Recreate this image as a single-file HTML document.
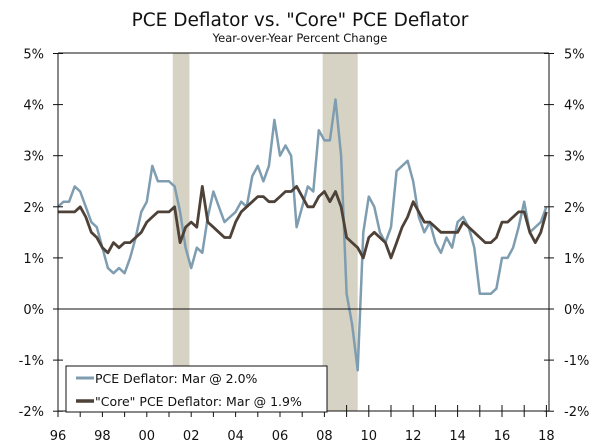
<!DOCTYPE html>
<html><head><meta charset="utf-8"><style>
body{margin:0;background:#fff;font-family:"DejaVu Sans","Liberation Sans",sans-serif}
</style></head><body>
<svg id="c" width="600" height="448" style="display:block">
<text x="300" y="26" text-anchor="middle" font-size="18.5" fill="#111">PCE Deflator vs. "Core" PCE Deflator</text>
<text x="300" y="42" text-anchor="middle" font-size="11.5" fill="#111">Year-over-Year Percent Change</text>
<g id="rec"></g><g id="grid"></g><g id="lines"></g><g id="axes"></g>
<g>
<rect x="66" y="366" width="261" height="46" fill="#fff" stroke="#111" stroke-width="1"/>
<line x1="76" y1="378" x2="94" y2="378" stroke="#7f9db0" stroke-width="3"/>
<text x="95" y="383" font-size="12.5" fill="#111">PCE Deflator: Mar @ 2.0%</text>
<line x1="76" y1="401" x2="94" y2="401" stroke="#4d4138" stroke-width="3.5"/>
<text x="95" y="406" font-size="12.5" fill="#111">"Core" PCE Deflator: Mar @ 1.9%</text>
</g>
</svg>
<script>
const pce=[2.0,2.1,2.1,2.4, 2.3,2.0,1.7,1.6, 1.2,0.8,0.7,0.8, 0.7,1.0,1.4,1.9, 2.1,2.8,2.5,2.5, 2.5,2.4,1.9,1.2, 0.8,1.2,1.1,1.8, 2.3,2.0,1.7,1.8, 1.9,2.1,2.0,2.6, 2.8,2.5,2.8,3.7, 3.0,3.2,3.0,1.6, 2.0,2.4,2.3,3.5, 3.3,3.3,4.1,3.0, 0.3,-0.3,-1.2,1.5, 2.2,2.0,1.5,1.3, 1.6,2.7,2.8,2.9, 2.5,1.8,1.5,1.7, 1.3,1.1,1.4,1.2, 1.7,1.8,1.6,1.2, 0.3,0.3,0.3,0.4, 1.0,1.0,1.2,1.6, 2.1,1.5,1.6,1.7, 2.0];
const core=[1.9,1.9,1.9,1.9, 2.0,1.8,1.5,1.4, 1.2,1.1,1.3,1.2, 1.3,1.3,1.4,1.5, 1.7,1.8,1.9,1.9, 1.9,2.0,1.3,1.6, 1.7,1.6,2.4,1.7, 1.6,1.5,1.4,1.4, 1.7,1.9,2.0,2.1, 2.2,2.2,2.1,2.1, 2.2,2.3,2.3,2.4, 2.2,2.0,2.0,2.2, 2.3,2.1,2.3,2.0, 1.4,1.3,1.2,1.0, 1.4,1.5,1.4,1.3, 1.0,1.3,1.6,1.8, 2.1,1.9,1.7,1.7, 1.6,1.5,1.5,1.5, 1.5,1.7,1.6,1.5, 1.4,1.3,1.3,1.4, 1.7,1.7,1.8,1.9, 1.9,1.5,1.3,1.5, 1.9];
const recessions=[[2001.17,2001.92],[2007.92,2009.5]];
const yTicks=[-2,-1,0,1,2,3,4,5];
const xTickLabels=["96","98","00","02","04","06","08","10","12","14","16","18"];
const NS="http://www.w3.org/2000/svg";
const X=t=>58+(t-1996)*22.2, Y=v=>309-v*51.1;
function mk(tag,a,p){const e=document.createElementNS(NS,tag);for(const k in a)e.setAttribute(k,a[k]);p.appendChild(e);return e;}
const rec=document.getElementById('rec'),grid=document.getElementById('grid'),lines=document.getElementById('lines'),axes=document.getElementById('axes');
recessions.forEach(r=>{const e=mk('rect',{x:X(r[0]),y:53,width:X(r[1])-X(r[0]),height:358,fill:'#d6d2c4'},rec);

});
function line(d,col,w,name){const pts=d.map((v,i)=>X(1996+i*0.25).toFixed(1)+','+Y(v).toFixed(1)).join(' ');
const e=mk('polyline',{points:pts,fill:'none',stroke:col,'stroke-width':w,'stroke-linejoin':'round'},lines);

}
line(pce,'#7f9db0',2.5,'pce-line');
line(core,'#4d4138',2.8,'core-pce-line');
mk('line',{x1:58,y1:53,x2:549,y2:53,stroke:'#111'},axes);
mk('line',{x1:58,y1:Y(0),x2:549,y2:Y(0),stroke:'#111'},axes);
mk('line',{x1:58,y1:53,x2:58,y2:411,stroke:'#111'},axes);
mk('line',{x1:549,y1:53,x2:549,y2:411,stroke:'#111'},axes);
mk('line',{x1:58,y1:411,x2:549,y2:411,stroke:'#111'},axes);
yTicks.forEach(v=>{const y=Y(v);
mk('line',{x1:53,y1:y,x2:63,y2:y,stroke:'#111'},axes);mk('line',{x1:544,y1:y,x2:554,y2:y,stroke:'#111'},axes);
const l=mk('text',{x:44,y:y+5,'text-anchor':'end','font-size':13,fill:'#111'},axes);l.textContent=v+'%';


const r=mk('text',{x:564,y:y+5,'font-size':13,fill:'#111'},axes);r.textContent=v+'%';

});
for(let i=0;i<=22;i++){const x=X(1996+i);mk('line',{x1:x,y1:405,x2:x,y2:417,stroke:'#111'},axes);}
xTickLabels.forEach((s,i)=>{const t=mk('text',{x:X(1996+i*2),y:440,'text-anchor':'middle','font-size':13,fill:'#111'},axes);t.textContent=s;

});
</script>
</body></html>
